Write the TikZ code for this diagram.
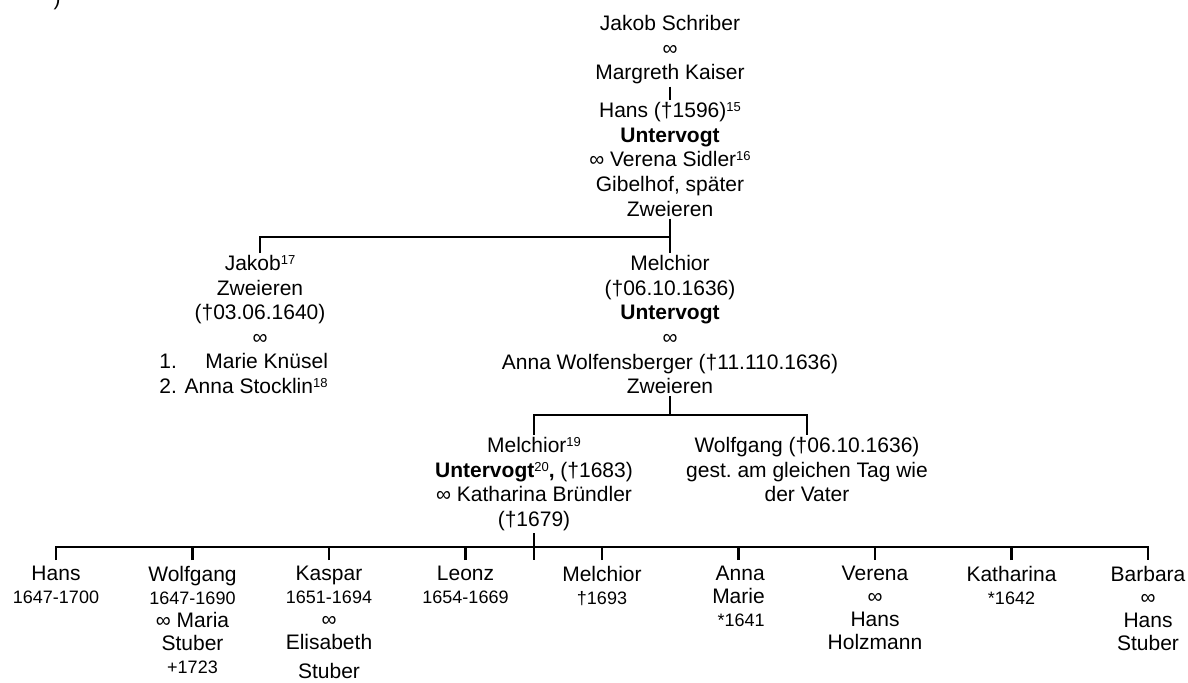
\documentclass[tikz,border=0pt]{standalone}
\usepackage{fontspec}
\setmainfont{Liberation Sans}
\usepackage{tikz}
\usetikzlibrary{calc}
\newcommand\supnr[1]{\raisebox{3pt}{\fontsize{6.5}{6.5}\selectfont #1}}
\newcommand\smalltxt[1]{{\fontsize{9}{11.5}\selectfont #1}}

\begin{document}
\begin{tikzpicture}[x=0.5pt,y=-0.5pt]
\tikzstyle{every node}=[font=\fontsize{10.5}{12.3}\selectfont]
\tikzstyle{person}=[align=center,anchor=north,inner sep=1pt]
\tikzstyle{kid}=[person,inner ysep=3pt,font=\fontsize{10.5}{11.5}\selectfont]
\tikzstyle{conn}=[line width=1.1pt]
\useasboundingbox (0,0) rectangle (1188,682);
\node[anchor=base] at(57, 5) (cutoff) {)};
% Eltern und erste Generation
\node[person] at(670, 13) (parents) {Jakob Schriber\\ ∞\\ Margreth Kaiser};
\node[person] at(670, 100) (hans) {Hans (†1596)\supnr{15}\\ \textbf{Untervogt}\\
    ∞ Verena Sidler\supnr{16}\\ Gibelhof, später\\ Zweieren};
\node[person] at(260, 253) (jakob) {Jakob\supnr{17}\\ Zweieren\\ (†03.06.1640)\\ ∞};
\node[person,anchor=north west,align=left] at(157, 351) (wives) {1.\hspace{14.25pt}Marie Knüsel\\
    2. Anna Stocklin\supnr{18}};
\node[person] at(670, 253) (melchior) {Melchior\\ (†06.10.1636)\\ \textbf{Untervogt}\\ ∞\\
    Anna Wolfensberger (†11.110.1636)\\ Zweieren};
\node[person] at(534, 435) (melchiorjr) {Melchior\supnr{19}\\ \textbf{Untervogt}\supnr{20}\textbf{,} (†1683)\\
    ∞ Katharina Bründler\\ (†1679)};
\node[person] at(807, 435) (wolfgang) {Wolfgang (†06.10.1636)\\ gest.\ am gleichen Tag wie\\ der Vater};
% Kinder
\node[kid] at(56, 560) (hansjr) {Hans\\ \smalltxt{1647-1700}};
\node[kid] at(192.5, 560) (wolfgangjr) {Wolfgang\\ \smalltxt{1647-1690}\\ ∞ Maria\\ Stuber\\ \smalltxt{+1723}};
\node[kid] at(329, 560) (kaspar) {Kaspar\\ \smalltxt{1651-1694}\\ ∞\\ Elisabeth\\[3pt] Stuber};
\node[kid] at(465.5, 560) (leonz) {Leonz\\ \smalltxt{1654-1669}};
\node[kid] at(602, 560) (melchiorIII) {Melchior\\ \smalltxt{†1693}};
\node[kid,align=right] at(738.5, 560) (annamarie) {Anna\\ Marie\\ \smalltxt{*1641}};
\node[kid] at(875, 560) (verena) {Verena\\ ∞\\ Hans\\ Holzmann};
\node[kid] at(1011.5, 560) (katharina) {Katharina\\ \smalltxt{*1642}};
\node[kid] at(1148, 560) (barbara) {Barbara\\ ∞\\ Hans\\ Stuber};
% Linien
\coordinate (forka) at(670, 237);
\coordinate (forkb) at(670, 415);
\coordinate (forkc) at(534, 547);
\coordinate (stub) at(534, 560);
\draw[conn] (parents.south) -- (hans.north);
\draw[conn] (hans.south) -- (melchior.north);
\draw[conn] (jakob.north) |- (forka);
\draw[conn] (melchior.south) -- (forkb);
\draw[conn] (melchiorjr.north) |- (forkb) -| (wolfgang.north);
\draw[conn] (melchiorjr.south) -- (stub);
\draw[conn] (hansjr.north) |- (forkc) -| (barbara.north);
\foreach \c in {wolfgangjr,kaspar,leonz,melchiorIII,annamarie,verena,katharina}
  \draw[conn] (\c.north) -- (\c.north |- forkc);
\end{tikzpicture}
\end{document}
